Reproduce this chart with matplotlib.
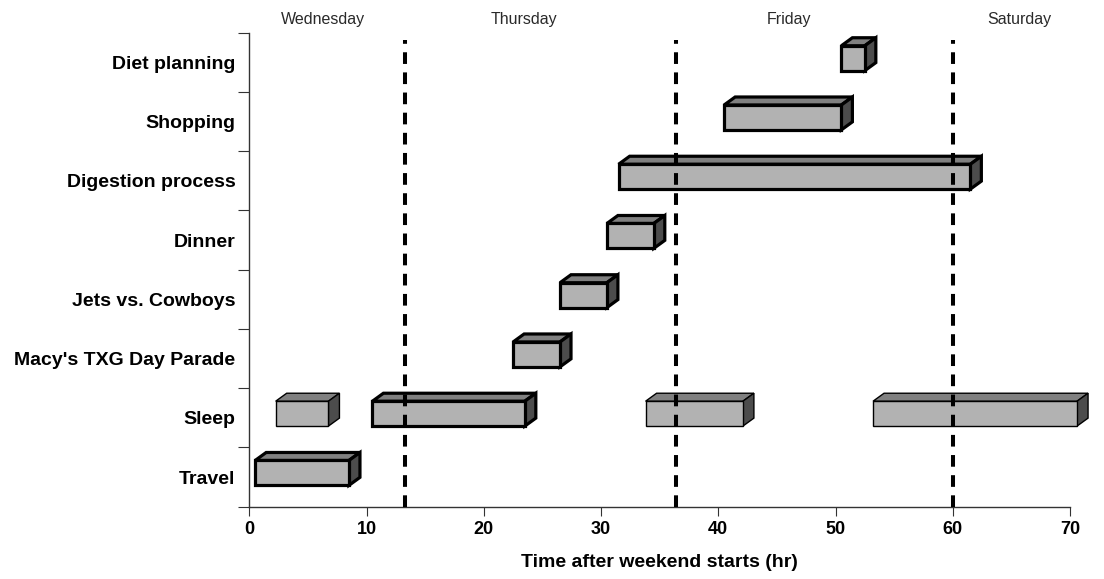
import matplotlib
matplotlib.use("Agg")
import matplotlib.pyplot as plt
from matplotlib.patches import Polygon

plt.rcParams['font.family'] = ['Liberation Sans', 'DejaVu Sans']

# ---- data ----
categories = ['Travel', 'Sleep', "Macy's TXG Day Parade", 'Jets vs. Cowboys',
              'Dinner', 'Digestion process', 'Shopping', 'Diet planning']

task_category = ['Travel', 'Sleep', 'Sleep', 'Sleep', 'Sleep',
                 "Macy's TXG Day Parade", 'Jets vs. Cowboys', 'Dinner',
                 'Digestion process', 'Shopping', 'Diet planning']
task_start = [0.5, 2.25, 10.5, 33.8, 53.2, 22.5, 26.5, 30.5, 31.5, 40.5, 50.5]
task_end   = [8.5, 6.75, 23.5, 42.1, 70.6, 26.5, 30.5, 34.5, 61.5, 50.5, 52.5]
task_heavy = [True, False, True, False, False, True, True, True, True, True, True]

day_boundaries = [13.25, 36.4, 60.0]
day_names = ['Wednesday', 'Thursday', 'Friday', 'Saturday']
day_label_x = [6.3, 23.4, 46.0, 65.7]

x_ticks = [0, 10, 20, 30, 40, 50, 60, 70]

# ---- figure ----
fig = plt.figure(figsize=(11.04, 5.79), dpi=100)
ax = fig.add_axes([0.2258, 0.1249, 0.9692 - 0.2258, 0.9435 - 0.1249])
ax.set_xlim(0, 70)
ax.set_ylim(0, len(categories))

front_c = '#b2b2b2'
top_c = '#808080'
side_c = '#4c4c4c'
dx, dy = 0.94, 0.135          # 3-D depth offset (style)
face_h, face_off = 0.42, 0.07  # front face height and vertical offset (style)

for cat, s, e, heavy in zip(task_category, task_start, task_end, task_heavy):
    i = categories.index(cat)
    yc = i + 0.5 + face_off
    y0, y1 = yc - face_h / 2, yc + face_h / 2
    lw = 2.3 if heavy else 1.0
    kw = dict(edgecolor='black', linewidth=lw, joinstyle='miter',
              clip_on=False, zorder=3)
    ax.add_patch(Polygon([(s, y1), (e, y1), (e + dx, y1 + dy), (s + dx, y1 + dy)],
                         closed=True, facecolor=top_c, **kw))
    ax.add_patch(Polygon([(e, y0), (e + dx, y0 + dy), (e + dx, y1 + dy), (e, y1)],
                         closed=True, facecolor=side_c, **kw))
    ax.add_patch(Polygon([(s, y0), (e, y0), (e, y1), (s, y1)],
                         closed=True, facecolor=front_c, **kw))

for xb in day_boundaries:
    ax.axvline(xb, ymin=0, ymax=0.985, color='black', linewidth=2.9,
               linestyle=(0, (2.9, 2.1)), zorder=5)

for name, xl in zip(day_names, day_label_x):
    ax.text(xl, 1.027, name, transform=ax.get_xaxis_transform(),
            ha='center', va='center', fontsize=11.5, color='#2a2a2a')

# axes styling
for sp in ['top', 'right']:
    ax.spines[sp].set_visible(False)
for sp in ['left', 'bottom']:
    ax.spines[sp].set_color('#333333')
    ax.spines[sp].set_linewidth(1.0)

ax.set_xticks(x_ticks)
ax.set_xticklabels([str(t) for t in x_ticks], fontsize=13, fontweight='bold')
ax.tick_params(axis='x', direction='out', length=6.5, width=0.8,
               color='#333333', pad=4)

ax.set_yticks(range(len(categories) + 1))
ax.set_yticklabels([])
ax.tick_params(axis='y', which='major', direction='out', length=8, width=0.8,
               color='#333333')
ax.set_yticks([i + 0.5 for i in range(len(categories))], minor=True)
ax.set_yticklabels(categories, minor=True, fontsize=14, fontweight='bold')
ax.tick_params(axis='y', which='minor', length=0, pad=10)

ax.set_xlabel('Time after weekend starts (hr)', fontsize=14,
              fontweight='bold', labelpad=11)

fig.savefig('out.png', dpi=100)
